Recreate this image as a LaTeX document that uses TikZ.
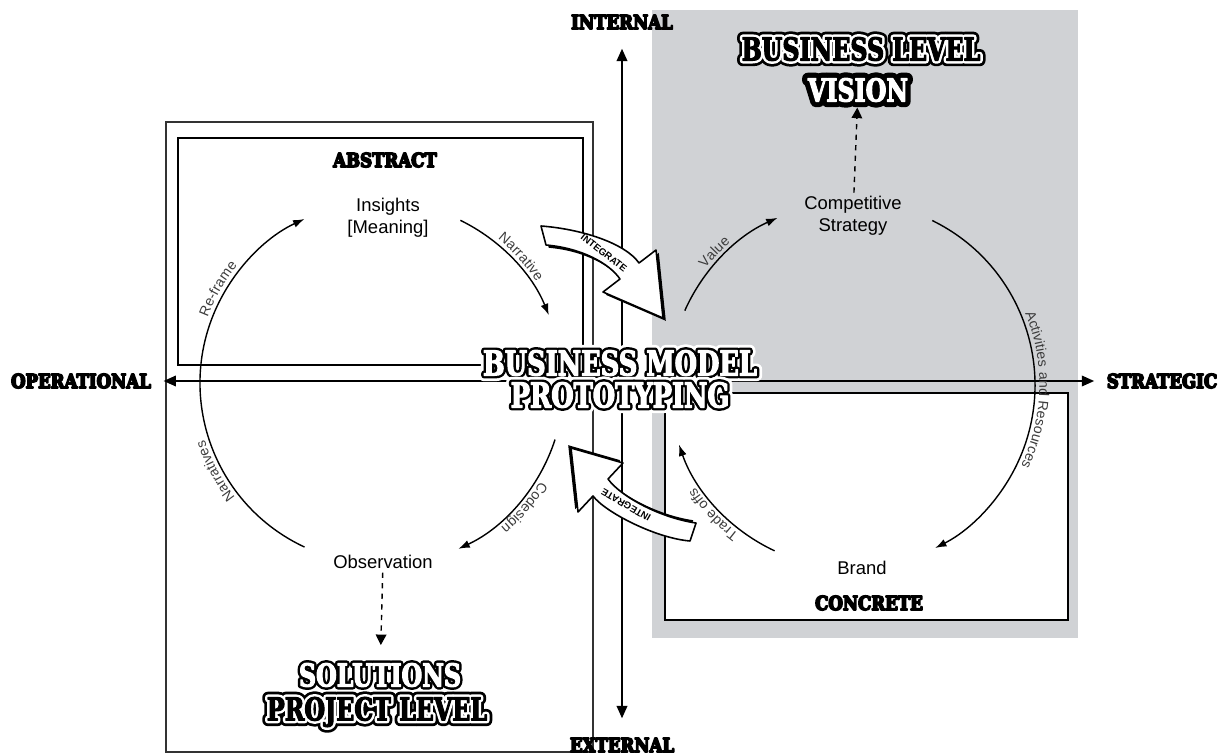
\documentclass[tikz,border=0pt]{standalone}
\usepackage{fontspec}
\setmainfont{Liberation Sans}
\newfontfamily\slabfont[FakeStretch=0.86]{DejaVu Serif}
\newfontfamily\slabnarrow[FakeStretch=0.75]{DejaVu Serif}
\usetikzlibrary{arrows.meta,calc,decorations.text,shadows}
\definecolor{panelgray}{RGB}{208,210,213}
\definecolor{arclabel}{RGB}{60,60,60}
\newcommand{\arcfont}{\fontsize{8}{8}\selectfont}
% stroked glyphs: line width, rgb
\newcommand{\strokeon}[2]{\special{pdf:literal direct 2 Tr 1 j #1 w #2 RG #2 rg}}
\newcommand{\strokeoff}{\special{pdf:literal direct 0 Tr}}
\newcommand{\heavy}[1]{\strokeon{0.9}{0 0 0}#1\strokeoff}
% outlined lettering: style, position, name, outer rgb, ring rgb, letters rgb, text
\newcommand{\ringtext}[7]{%
  \node[#1] at (#2) {\strokeon{6.5}{#4}#7\strokeoff};
  \node[#1] at (#2) {\strokeon{3.4}{#5}#7\strokeoff};
  \node[#1] (#3) at (#2) {\strokeon{0.6}{#6}#7\strokeoff};
}

\begin{document}
\begin{tikzpicture}[x=0.02cm,y=0.02cm,
  itemtext/.style={font=\fontsize{10.5}{12.5}\selectfont,align=center,inner sep=2pt},
  axislabel/.style={font=\slabfont\bfseries\fontsize{11}{11}\selectfont,inner sep=2pt},
  bigword/.style={font=\slabnarrow\bfseries\fontsize{18}{18}\selectfont,inner sep=0pt},
  hugeword/.style={font=\slabnarrow\bfseries\fontsize{19.5}{19.5}\selectfont,inner sep=0pt},
  axisarrow/.style={line width=1pt,{Triangle[length=7pt,width=6pt]}-{Triangle[length=7pt,width=6pt]}},
  cyclearc/.style={line width=0.8pt,-{Latex[length=6.5pt,width=4.5pt]}},
  dasharrow/.style={dashed,line width=0.8pt,-{Triangle[length=6pt,width=6pt]}},
  arclabeltext/.style={decorate,decoration={text along path,text align=center,
    raise=2.5pt,text color=arclabel,text={|\arcfont|#1}}},
  blockarrow/.style={fill=white,draw=black,line width=0.9pt,line join=round},
  tag/.style={font=\bfseries\fontsize{5.5}{5.5}\selectfont,inner sep=0pt}
]
  \useasboundingbox (0,0) rectangle (1229,755);

  % quadrant panels
  \fill[panelgray] (652,117) rectangle (1078,745);
  \draw[line width=1.1pt,fill=white] (665,135) rectangle (1068,362);
  \draw[line width=1.1pt] (178,390) rectangle (583,617);
  \draw[line width=0.6pt,black!80] (166,3) rectangle (593,633);

  % axes
  \node[axislabel] (operational) at (81,374) {\heavy{OPERATIONAL}};
  \node[axislabel] (strategic) at (1162,374) {\heavy{STRATEGIC}};
  \node[axislabel] (internal) at (622,733) {\heavy{INTERNAL}};
  \node[axislabel] (external) at (622,10) {\heavy{EXTERNAL}};
  \draw[axisarrow,shorten <=5pt,shorten >=5pt] (operational) -- (strategic);
  \draw[axisarrow,shorten <=9pt,shorten >=9pt] (external) -- (internal);

  % stations
  \node[axislabel] (abstract) at (385,595) {\heavy{ABSTRACT}};
  \node[axislabel] (concrete) at (869,152) {\heavy{CONCRETE}};
  \node[itemtext] (insights) at (388,537) {Insights\\{[Meaning]}};
  \node[itemtext] (strategy) at (853,539) {Competitive\\Strategy};
  \node[itemtext] (observation) at (383,193) {Observation};
  \node[itemtext] (brand) at (862,187) {Brand};

  % the two cycles
  \coordinate (lc) at (381,372);
  \coordinate (rc) at (852,370);
  \draw[cyclearc] ([shift={(245:181)}]lc) arc[start angle=245,end angle=115,radius=181];
  \draw[cyclearc] ([shift={(64:181)}]lc) arc[start angle=64,end angle=22,radius=181];
  \draw[cyclearc] ([shift={(-18:183)}]lc) arc[start angle=-18,end angle=-65,radius=183];
  \draw[cyclearc] ([shift={(156:183)}]rc) arc[start angle=156,end angle=114,radius=183];
  \draw[cyclearc] ([shift={(64:183)}]rc) arc[start angle=64,end angle=-63,radius=183];
  \draw[cyclearc] ([shift={(245:183)}]rc) arc[start angle=245,end angle=199,radius=183];

  \path[arclabeltext={Re-frame}] ([shift={(172:181)}]lc) arc[start angle=172,end angle=128,radius=181];
  \path[arclabeltext={Narratives}] ([shift={(232:181)}]lc) arc[start angle=232,end angle=184,radius=181];
  \path[arclabeltext={Narrative}] ([shift={(64:181)}]lc) arc[start angle=64,end angle=20,radius=181];
  \path[arclabeltext={Codesign}] ([shift={(-18:183)}]lc) arc[start angle=-18,end angle=-64,radius=183];
  \path[arclabeltext={Value}] ([shift={(160:183)}]rc) arc[start angle=160,end angle=112,radius=183];
  \path[arclabeltext={Activities and Resources}] ([shift={(44:183)}]rc) arc[start angle=44,end angle=-47,radius=183];
  \path[arclabeltext={Trade offs}] ([shift={(246:183)}]rc) arc[start angle=246,end angle=200,radius=183];

  % integrate arrows
  \path[blockarrow,drop shadow={shadow xshift=1.6pt,shadow yshift=-1.6pt,opacity=1,fill=black}]
    (541,529) .. controls (581,526) and (625,512) .. (639,492)
    -- (656,505) -- (663,437) -- (603,463) -- (620,476)
    .. controls (609,492) and (581,507) .. (546,510) -- cycle;
  \path[blockarrow,drop shadow={shadow xshift=-1.6pt,shadow yshift=1.6pt,opacity=1,fill=black}]
    (696,232) .. controls (661,237) and (621,258) .. (608,276)
    -- (623,292) -- (571,307) -- (578,243) -- (593,259)
    .. controls (605,243) and (655,217) .. (690,214) -- cycle;
  \node[tag,rotate=-38] (integtop) at (604,502) {INTEGRATE};
  \node[tag,rotate=150] (integbot) at (626,250) {INTEGRATE};

  % headings
  \ringtext{hugeword}{620,392}{bmtop}{1 1 1}{0 0 0}{1 1 1}{BUSINESS MODEL}
  \ringtext{hugeword}{620,360}{bmbottom}{1 1 1}{0 0 0}{1 1 1}{PROTOTYPING}
  \ringtext{bigword}{861,706}{bizlevel}{0 0 0}{1 1 1}{0 0 0}{BUSINESS LEVEL}
  \ringtext{bigword}{858,665}{vision}{0 0 0}{0 0 0}{1 1 1}{VISION}
  \ringtext{bigword}{380,80}{solutions}{1 1 1}{0 0 0}{1 1 1}{SOLUTIONS}
  \ringtext{bigword}{377,43}{projlevel}{0 0 0}{1 1 1}{0 0 0}{PROJECT LEVEL}

  \draw[dasharrow,shorten >=3pt] (strategy) -- (vision);
  \draw[dasharrow,shorten >=10pt] (observation) -- (solutions);
\end{tikzpicture}
\end{document}
